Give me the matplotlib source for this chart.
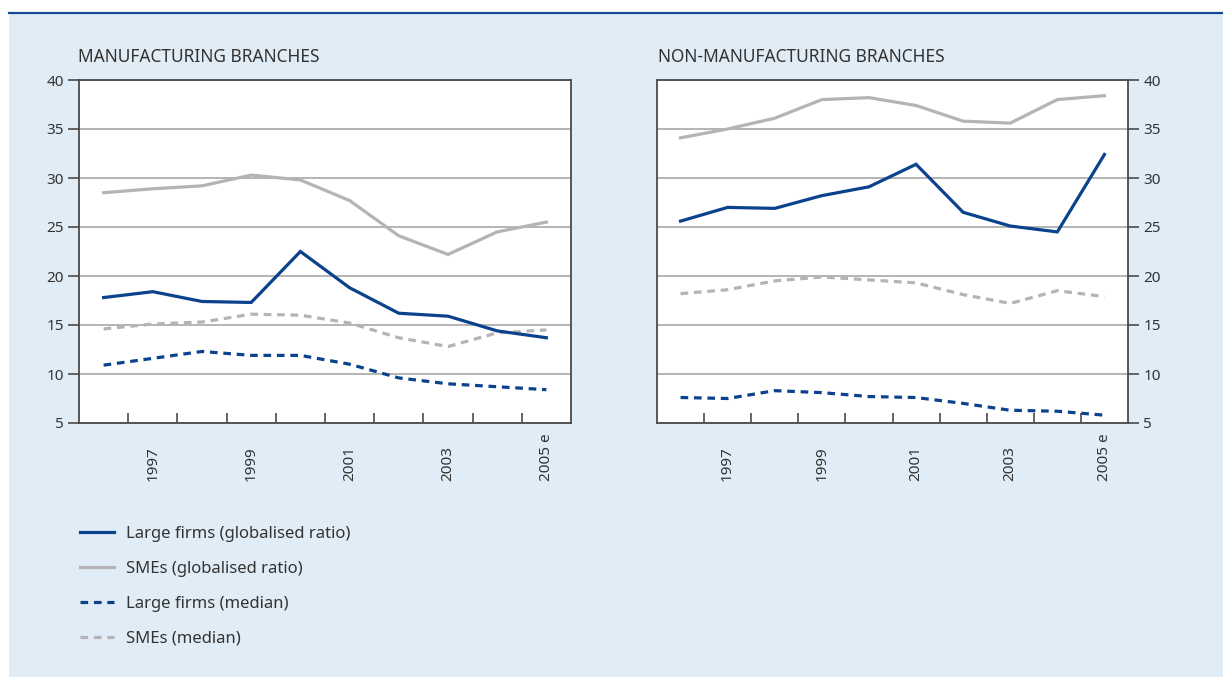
import matplotlib
matplotlib.use("Agg")
import matplotlib.pyplot as plt
from matplotlib.patches import Rectangle
from matplotlib.lines import Line2D

plt.rcParams['font.family'] = ['Noto Sans', 'DejaVu Sans']

years = ["1996", "1997", "1998", "1999", "2000", "2001", "2002", "2003", "2004", "2005 e"]
tick_labels = ["", "1997", "", "1999", "", "2001", "", "2003", "", "2005 e"]

manu_large_ratio = [17.8, 18.4, 17.4, 17.3, 22.5, 18.8, 16.2, 15.9, 14.4, 13.7]
manu_sme_ratio = [28.5, 28.9, 29.2, 30.3, 29.8, 27.7, 24.1, 22.2, 24.5, 25.5]
manu_large_median = [10.9, 11.6, 12.3, 11.9, 11.9, 11.0, 9.6, 9.0, 8.7, 8.4]
manu_sme_median = [14.6, 15.1, 15.3, 16.1, 16.0, 15.2, 13.7, 12.8, 14.2, 14.5]

non_large_ratio = [25.6, 27.0, 26.9, 28.2, 29.1, 31.4, 26.5, 25.1, 24.5, 32.4]
non_sme_ratio = [34.1, 35.0, 36.1, 38.0, 38.2, 37.4, 35.8, 35.6, 38.0, 38.4]
non_large_median = [7.6, 7.5, 8.3, 8.1, 7.7, 7.6, 7.0, 6.3, 6.2, 5.8]
non_sme_median = [18.2, 18.6, 19.5, 19.9, 19.6, 19.3, 18.1, 17.2, 18.5, 17.9]

series_labels = ["Large firms (globalised ratio)", "SMEs (globalised ratio)",
                 "Large firms (median)", "SMEs (median)"]
panel_titles = ["MANUFACTURING BRANCHES", "NON-MANUFACTURING BRANCHES"]
yticks = [5, 10, 15, 20, 25, 30, 35, 40]

BLUE = "#0b428c"
GRAY = "#b4b4b6"
BG = "#e1edf6"
SPINE = "#4a4a4a"
GRID = "#a8a8a8"
TXT = "#333333"

W, H = 1223, 677
fig = plt.figure(figsize=(W / 100, H / 100), dpi=100)
fig.patch.set_facecolor("white")
fig.patches.append(Rectangle((9 / W, 0), 1 - 9 / W, (H - 13) / H, transform=fig.transFigure,
                             facecolor=BG, edgecolor="none", zorder=-10))
fig.add_artist(Line2D([9 / W, 1], [(H - 12.5) / H] * 2, transform=fig.transFigure,
                      color="#124a94", lw=1.6))


def make_axes(left_px, right_px):
    top_px, bot_px = 80, 423
    return fig.add_axes([left_px / W, (H - bot_px) / H, (right_px - left_px) / W, (bot_px - top_px) / H])


def draw(ax, large_ratio, sme_ratio, large_med, sme_med, right_side):
    x = list(range(len(years)))
    ax.set_facecolor("white")
    dash = (2.4, 1.8)
    h1, = ax.plot(x, large_ratio, color=BLUE, lw=2.3, zorder=4, solid_joinstyle="miter")
    h2, = ax.plot(x, sme_ratio, color=GRAY, lw=2.3, zorder=3, solid_joinstyle="miter")
    h3, = ax.plot(x, large_med, color=BLUE, lw=2.3, zorder=4, dashes=dash)
    h4, = ax.plot(x, sme_med, color=GRAY, lw=2.3, zorder=3, dashes=dash)
    ax.set_xlim(-0.5, len(years) - 0.5)
    ax.set_ylim(5, 40)
    ax.set_yticks(yticks)
    ax.set_yticklabels([str(v) for v in yticks])
    ax.yaxis.grid(True, color=GRID, lw=1.2, zorder=1)
    ax.set_axisbelow(True)
    # category boundary ticks
    ax.set_xticks([i + 0.5 for i in range(len(years) - 1)], minor=False)
    ax.set_xticklabels([""] * (len(years) - 1))
    ax.set_xticks(x, minor=True)
    ax.set_xticklabels(tick_labels, minor=True, rotation=90, fontsize=11, color=TXT, va="bottom")
    ax.tick_params(axis="x", which="major", direction="in", length=7, width=1.2, color=SPINE)
    ax.tick_params(axis="x", which="minor", length=0, pad=42)
    for s in ax.spines.values():
        s.set_color(SPINE)
        s.set_linewidth(1.3)
    if right_side:
        ax.yaxis.tick_right()
    ax.tick_params(axis="y", direction="out", length=8, width=1.2, color=SPINE,
                   labelsize=11, labelcolor=TXT, pad=3)
    return [h1, h2, h3, h4]


ax1 = make_axes(79, 571)
handles = draw(ax1, manu_large_ratio, manu_sme_ratio, manu_large_median, manu_sme_median, False)
ax2 = make_axes(657, 1128)
draw(ax2, non_large_ratio, non_sme_ratio, non_large_median, non_sme_median, True)

fig.text(78 / W, 1 - 56.5 / H, panel_titles[0], fontsize=12.5, color=TXT, va="center", ha="left")
fig.text(658 / W, 1 - 56.5 / H, panel_titles[1], fontsize=12.5, color=TXT, va="center", ha="left")

leg = fig.legend(handles, series_labels, loc="upper left", bbox_to_anchor=(73 / W, 1 - 519 / H),
                 frameon=False, fontsize=12, labelcolor=TXT, handlelength=2.05, handletextpad=0.75,
                 labelspacing=1.14, borderaxespad=0)

fig.savefig("out.png", dpi=100, facecolor=fig.get_facecolor())
